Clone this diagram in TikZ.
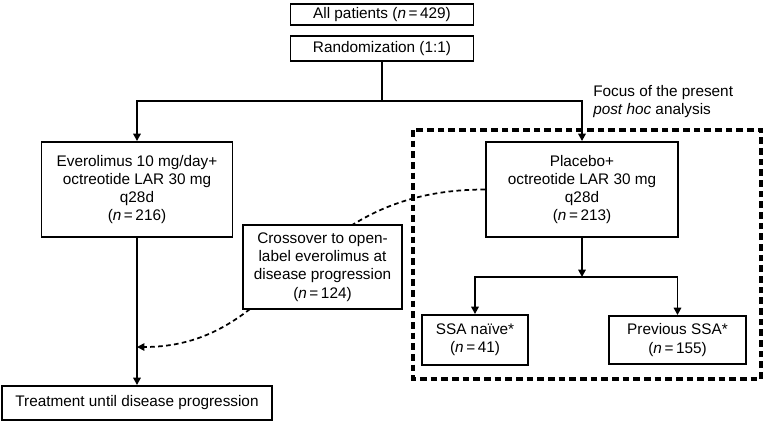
\documentclass[tikz,border=0pt]{standalone}
\usepackage{fontspec}
\setmainfont{Liberation Sans}
\usepackage{tikz}
\usetikzlibrary{arrows.meta,positioning}

\begin{document}
\begin{tikzpicture}[
    x=0.75pt, y=-0.75pt,
    font=\fontsize{11.5}{13.7}\selectfont,
    box/.style={rectangle, draw, line width=1.4pt, fill=white, align=center, inner sep=0pt},
    link/.style={line width=1.4pt},
    flow/.style={-{Triangle[length=5.5pt,width=5.5pt]}, line width=1.4pt},
    crossflow/.style={-{Triangle[length=5.5pt,width=5.5pt]}, dash pattern=on 3.5pt off 2.5pt, line width=1.3pt},
    focusframe/.style={dash pattern=on 5pt off 3pt, line width=2.6pt}
]
    \useasboundingbox (0,0) rectangle (764,421);

    % Top of the trial
    \node[box, minimum width=137.25pt, minimum height=15.75pt] (all) at (382,14.5) {All patients (\textit{n}\,=\,429)};
    \node[box, minimum width=137.25pt, minimum height=18.75pt] (rand) at (382,48.5) {Randomization (1:1)};

    % Study arms
    \node[box, minimum width=143.25pt, minimum height=71.25pt] (ever) at (137,189.5) {Everolimus 10 mg/day+\\octreotide LAR 30 mg\\q28d\\(\textit{n}\,=\,216)};
    \node[box, minimum width=144pt, minimum height=71.25pt] (plac) at (582,189.5) {Placebo+\\octreotide LAR 30 mg\\q28d\\(\textit{n}\,=\,213)};

    % Placebo subgroups
    \node[box, minimum width=79.5pt, minimum height=37.5pt] (naive) at (475,340) {SSA naïve*\\(\textit{n}\,=\,41)};
    \node[box, minimum width=102.75pt, minimum height=36pt] (prev) at (677.5,340) {Previous SSA*\\(\textit{n}\,=\,155)};

    \node[box, minimum width=202.5pt, minimum height=25.5pt] (treat) at (137,403) {Treatment until disease progression};

    % Focus frame
    \draw[focusframe] (413,130) rectangle (761,379);
    \node[anchor=north west, align=left, inner sep=0pt] (focus) at (593,85) {Focus of the present\\\textit{post hoc} analysis};

    % Connections
    \coordinate (split) at (382,101);
    \coordinate (subsplit) at (582,277);
    \coordinate (merge) at (137,347);
    \draw[link] (rand) -- (split);
    \draw[flow] (split) -| (ever);
    \draw[flow] (split) -| (plac);
    \draw[flow] (plac) -- (subsplit);
    \draw[flow] (subsplit) -| (naive);
    \draw[flow] (subsplit) -| (prev);
    \draw[flow] (ever) -- (treat);
    \draw[crossflow] (plac.west) .. controls +(-190,0) and +(150,0) .. (merge);

    % Crossover (drawn over the dashed curve)
    \node[box, minimum width=119.25pt, minimum height=63pt] (xover) at (322.5,267) {Crossover to open-\\label everolimus at\\disease progression\\(\textit{n}\,=\,124)};
\end{tikzpicture}
\end{document}
